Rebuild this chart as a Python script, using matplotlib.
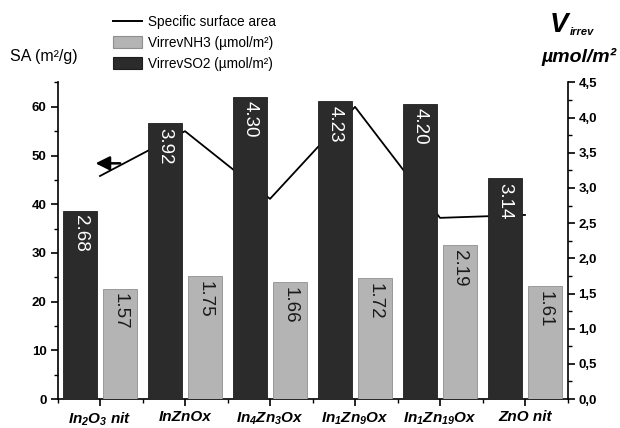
import matplotlib
matplotlib.use("Agg")
import matplotlib.pyplot as plt
from matplotlib.lines import Line2D
from matplotlib.patches import Patch, FancyArrowPatch
from matplotlib.ticker import MultipleLocator, FuncFormatter
from matplotlib import transforms

plt.rcParams['font.family'] = ['Liberation Sans', 'DejaVu Sans']
plt.rcParams['mathtext.fontset'] = 'custom'
plt.rcParams['mathtext.it'] = 'Liberation Sans:italic:bold'
plt.rcParams['mathtext.rm'] = 'Liberation Sans:italic:bold'
plt.rcParams['mathtext.bf'] = 'Liberation Sans:italic:bold'

# Samples
samples = [r"$In_2O_3$ nit", "InZnOx", r"$In_4Zn_3Ox$", r"$In_1Zn_9Ox$",
           r"$In_1Zn_{19}Ox$", "ZnO nit"]
# Specific surface area (m²/g)
surface_area = [45.8, 55.0, 41.1, 60.0, 37.2, 37.8]
# Irreversibly adsorbed amounts (µmol/m²)
v_nh3 = [1.57, 1.75, 1.66, 1.72, 2.19, 1.61]
v_so2 = [2.68, 3.92, 4.30, 4.23, 4.20, 3.14]

dark = "#2b2b2b"
light = "#b4b4b4"

fig = plt.figure(figsize=(6.2, 4.28), dpi=100)
W, H = 620, 428
ax = fig.add_axes([57.5 / W, 1 - 399 / H, 510 / W, (399 - 82.5) / H])
ax2 = ax.twinx()

x = list(range(len(samples)))

# surface area line on the left axis (drawn beneath the bars)
ax.plot(x, surface_area, color="black", lw=1.3, zorder=1)
ax.set_xlim(-0.5, 5.5)
ax.set_ylim(0, 65)

# bars on the right axis
off, bw = 0.235, 0.40
xs_so2 = [i - off for i in x]
xs_nh3 = [i + off for i in x]
ax2.bar(xs_so2, v_so2, width=bw, color=dark, edgecolor="#1e1e1e", linewidth=0.6, zorder=2)
ax2.bar(xs_nh3, v_nh3, width=bw, color=light, edgecolor="#8f8f8f", linewidth=0.6, zorder=2)
ax2.set_ylim(0, 4.5)

lab_tr = transforms.offset_copy(ax2.transData, fig=fig, y=-3.5, units="points")
for xi, v in zip(xs_so2, v_so2):
    ax2.text(xi, v, f"{v:.2f}", rotation=-90, ha="center", va="top",
             color="white", fontsize=13.5, transform=lab_tr, zorder=3)
for xi, v in zip(xs_nh3, v_nh3):
    ax2.text(xi, v, f"{v:.2f}", rotation=-90, ha="center", va="top",
             color="#1a1a1a", fontsize=13.5, transform=lab_tr, zorder=3)

# arrow pointing to the left axis
arr = FancyArrowPatch((0.27, 48.4), (-0.085, 48.4), arrowstyle="-|>",
                      mutation_scale=21, color="black", lw=1.8, zorder=3)
ax.add_patch(arr)

# axes styling
for a in (ax, ax2):
    a.spines["top"].set_visible(False)
    for s in a.spines.values():
        s.set_linewidth(1.2)
ax.spines["right"].set_visible(False)
ax2.spines["left"].set_visible(False)
ax2.spines["bottom"].set_visible(False)

ax.set_xticks(x)
ax.set_xticklabels(samples, fontsize=11, fontweight="bold", fontstyle="italic")
ax.set_xticks([i + 0.5 for i in range(-1, 6)], minor=True)
ax.tick_params(axis="x", which="major", direction="out", length=5, width=1.2, pad=3)
ax.tick_params(axis="x", which="minor", direction="out", length=3, width=1.0)

ax.yaxis.set_major_locator(MultipleLocator(10))
ax.yaxis.set_minor_locator(MultipleLocator(5))
ax.tick_params(axis="y", which="major", direction="out", length=5, width=1.2,
               labelsize=9.5, pad=3)
ax.tick_params(axis="y", which="minor", direction="out", length=3, width=1.0)
for t in ax.get_yticklabels():
    t.set_fontweight("bold")

ax2.yaxis.set_major_locator(MultipleLocator(0.5))
ax2.yaxis.set_minor_locator(MultipleLocator(0.25))
ax2.yaxis.set_major_formatter(FuncFormatter(lambda v, p: f"{v:.1f}".replace(".", ",")))
ax2.tick_params(axis="y", which="major", direction="out", length=5, width=1.2,
                labelsize=9.5, pad=3)
ax2.tick_params(axis="y", which="minor", direction="out", length=3, width=1.0)
for t in ax2.get_yticklabels():
    t.set_fontweight("bold")

# axis titles
fig.text(44 / W, 1 - 56 / H, "SA (m²/g)", ha="center", va="center", fontsize=11.5)
fig.text(550 / W, 1 - 32 / H, "V", ha="left", va="baseline", fontsize=20,
         fontweight="bold", fontstyle="italic")
fig.text(569.5 / W, 1 - 35 / H, "irrev", ha="left", va="baseline", fontsize=8,
         fontweight="bold", fontstyle="italic")
fig.text(617 / W, 1 - 62 / H, "µmol/m²", ha="right", va="baseline", fontsize=14,
         fontweight="bold", fontstyle="italic")

# legend
handles = [Line2D([], [], color="black", lw=1.4),
           Patch(facecolor=light, edgecolor="#8f8f8f", lw=0.8),
           Patch(facecolor=dark, edgecolor="#1e1e1e", lw=0.8)]
labels = ["Specific surface area", "VirrevNH3 (µmol/m²)", "VirrevSO2 (µmol/m²)"]
fig.legend(handles, labels, loc="upper left", bbox_to_anchor=(113 / W, 1 - 15 / H),
           frameon=False, fontsize=9.8, handlelength=2.1, handleheight=0.95,
           handletextpad=0.45, labelspacing=0.5, borderpad=0, borderaxespad=0)

fig.savefig("out.png", dpi=100)
